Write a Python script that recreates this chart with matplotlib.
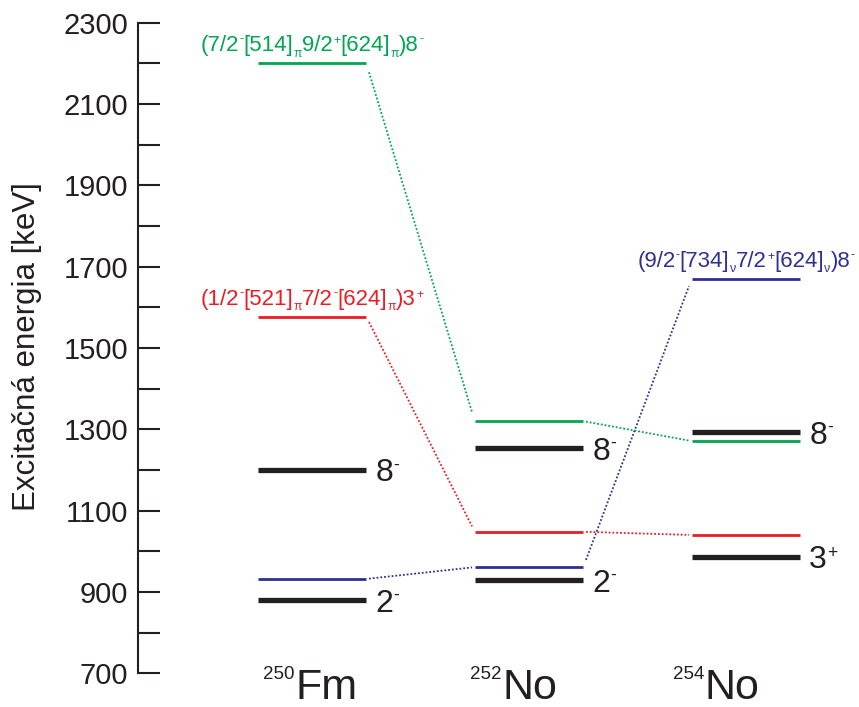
import numpy as np
import matplotlib
matplotlib.use('Agg')
import matplotlib.pyplot as plt

plt.rcParams['font.family'] = ['Liberation Sans', 'DejaVu Sans']

# nuclei along the x axis
mass_numbers = ['250', '252', '254']
elements = ['Fm', 'No', 'No']

# known 2-quasiparticle states [keV] (black levels), spin and parity
upper_levels = [1200, 1254, 1293]
upper_spins = [('8', '-'), ('8', '-'), ('8', '-')]
lower_levels = [880, 929, 987]
lower_spins = [('2', '-'), ('2', '-'), ('3', '+')]

# calculated configurations followed through the three nuclei [keV]
green_levels = [2200, 1320, 1271]
red_levels = [1577, 1048, 1040]
blue_levels = [932, 961, 1670]

# configuration labels as (text, kind) pieces
green_label = [('(7/2', 'n'), ('-', 'sup'), ('[514]', 'n'), ('\u03c0', 'sub'), ('9/2', 'n'),
               ('+', 'sup'), ('[624]', 'n'), ('\u03c0', 'sub'), (')8', 'n'), ('-', 'sup')]
red_label = [('(1/2', 'n'), ('-', 'sup'), ('[521]', 'n'), ('\u03c0', 'sub'), ('7/2', 'n'),
             ('-', 'sup'), ('[624]', 'n'), ('\u03c0', 'sub'), (')3', 'n'), ('+', 'sup')]
blue_label = [('(9/2', 'n'), ('-', 'sup'), ('[734]', 'n'), ('\u03bd', 'sub'), ('7/2', 'n'),
              ('+', 'sup'), ('[624]', 'n'), ('\u03bd', 'sub'), (')8', 'n'), ('-', 'sup')]

GREEN = '#00A651'
RED = '#ED1C24'
BLUE = '#2E3192'
DARK = '#231F20'

half_w = 0.25
x = np.arange(len(elements))

fig = plt.figure(figsize=(8.59, 7.07), dpi=100)
ax = fig.add_axes([0.1607, 0.0477, 0.8393, 0.9203])


def connect(ax, ys, color):
    # dotted lines from the right end of one level to the left end of the next
    for i in range(len(ys) - 1):
        x0, x1 = x[i] + half_w, x[i + 1] - half_w
        y0, y1 = ys[i], ys[i + 1]
        t = np.array([0.025, 0.975])
        ax.plot(x0 + t * (x1 - x0), y0 + t * (y1 - y0), ls=(0, (1, 1.1)),
                color=color, lw=1.3)


def rich_text(ax, xy, pieces, size, color, dx=0, dy=0, va='bottom', center=True):
    # chain of small texts so super/subscripts can be sized freely
    small = size * 0.55
    base = ax.annotate(pieces[0][0], xy, xytext=(dx, dy), textcoords='offset points',
                       ha='left', va=va, fontsize=size, color=color)
    arts = [base]
    prev = base
    for s, kind in pieces[1:]:
        if kind == 'sup':
            lift = 1.5 if s == '-' else 0
            t = ax.annotate(s, xy=(1, 1), xycoords=(prev, base), xytext=(0.3, lift),
                            textcoords='offset points', ha='left', va='top',
                            fontsize=small, color=color)
        elif kind == 'sub':
            t = ax.annotate(s, xy=(1, 0), xycoords=(prev, base), xytext=(0.2, -2.6),
                            textcoords='offset points', ha='left', va='bottom',
                            fontsize=small, color=color)
        else:
            t = ax.annotate(s, xy=(1, 0), xycoords=(prev, base), ha='left', va='bottom',
                            fontsize=size, color=color)
        arts.append(t)
        prev = t
    if center:
        fig.canvas.draw()
        x0 = arts[0].get_window_extent().x0
        x1 = max(a.get_window_extent().x1 for a in arts)
        base.xyann = (dx - (x1 - x0) * 72 / fig.dpi / 2, dy)
    return arts


for ys, c in [(green_levels, GREEN), (red_levels, RED), (blue_levels, BLUE)]:
    ax.hlines(ys, x - half_w, x + half_w, color=c, lw=2.0)
    connect(ax, ys, c)

ax.hlines(upper_levels, x - half_w, x + half_w, color=DARK, lw=3.8)
ax.hlines(lower_levels, x - half_w, x + half_w, color=DARK, lw=3.8)

# spin/parity labels right of the black levels
for i in range(len(x)):
    for lev, (j, p) in [(upper_levels[i], upper_spins[i]), (lower_levels[i], lower_spins[i])]:
        rich_text(ax, (x[i] + half_w, lev), [(j, 'n'), (p, 'sup')], 23, DARK,
                  dx=6.5, dy=-8.3, va='baseline', center=False)

# configuration labels above the levels
rich_text(ax, (x[0], green_levels[0]), green_label, 16, GREEN, dy=5)
rich_text(ax, (x[0], red_levels[0]), red_label, 16, RED, dy=5)
rich_text(ax, (x[2], blue_levels[2]), blue_label, 16, BLUE, dy=5)

# nucleus names under the axis
name_x = [-0.078, 0.876, 1.811]
trans = ax.get_xaxis_transform()
for i in range(len(x)):
    ax.text(name_x[i], -0.040, elements[i], transform=trans, fontsize=31,
            color=DARK, ha='left', va='baseline')
    ax.text(name_x[i] - 0.004, -0.0094, mass_numbers[i], transform=trans, fontsize=13.5,
            color=DARK, ha='right', va='baseline')

ax.set_xlim(-0.802, 2.521)
ax.set_ylim(700, 2300)
for s in ['top', 'right', 'bottom']:
    ax.spines[s].set_visible(False)
ax.spines['left'].set_linewidth(1.5)
ax.spines['left'].set_color(DARK)
ax.set_xticks([])
ax.set_yticks(np.arange(700, 2301, 200))
ax.set_yticks(np.arange(800, 2300, 200), minor=True)
ax.tick_params(axis='y', which='both', direction='in', length=16, width=1.5,
               colors=DARK, labelsize=21, pad=7)
ax.set_ylabel('Excitačná energia [keV]', fontsize=22.5, color=DARK)
ax.yaxis.set_label_coords(-0.1337, 0.502)

fig.savefig('out.png', dpi=100)
